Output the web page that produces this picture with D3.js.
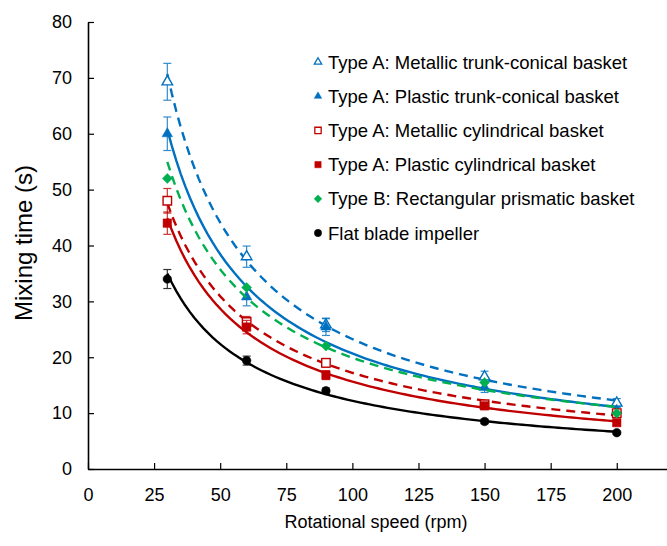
<!DOCTYPE html>
<html>
<head>
<meta charset="utf-8">
<script src="https://cdn.jsdelivr.net/npm/d3@7"></script>
<style>
  body { margin: 0; background: #fff; }
  svg text { font-family: "Liberation Sans", Arial, sans-serif; fill: #000; }
</style>
</head>
<body>
<div id="chart"></div>
<script>
(function(){
    // data
    const speeds = [30, 60, 90, 150, 200];

    const seriesNames = [
        'Type A: Metallic trunk-conical basket',
        'Type A: Plastic trunk-conical basket',
        'Type A: Metallic cylindrical basket',
        'Type A: Plastic cylindrical basket',
        'Type B: Rectangular prismatic basket',
        'Flat blade impeller'
    ];

    const metallicConical = [69.3, 38.0, 25.8, 16.5, 11.8];
    const plasticConical = [60.0, 30.8, 25.4, 14.6, 10.5];
    const metallicCylindrical = [48.0, 26.3, 19.0, 11.6, 10.0];
    const plasticCylindrical = [44.0, 25.4, 16.8, 11.3, 8.3];
    const rectangularPrismatic = [52.0, 32.5, 22.0, 15.5, 10.0];
    const flatBlade = [34.0, 19.4, 14.0, 8.5, 6.5];

    const metallicConicalErr = [3.3, 1.9, 1.2, 1.0, 0.8];
    const plasticConicalErr = [3.0, 1.6, 1.5, 0.9, 0.7];
    const metallicCylindricalErr = [2.2, 1.0, 0.8, 0.6, 0.5];
    const plasticCylindricalErr = [2.0, 1.2, 0.8, 0.6, 0.5];
    const rectangularPrismaticErr = [0, 0, 0, 0, 0];
    const flatBladeErr = [1.7, 0.8, 0.5, 0.4, 0.3];

    const xTicks = [0, 25, 50, 75, 100, 125, 150, 175, 200];
    const yTicks = [0, 10, 20, 30, 40, 50, 60, 70, 80];

    // excel style diamond: a square turned 45 degrees
    const diamond = {
        draw(context, size) {
            const r = Math.sqrt(size / 2);
            context.moveTo(0, -r);
            context.lineTo(r, 0);
            context.lineTo(0, r);
            context.lineTo(-r, 0);
            context.closePath();
        }
    };

    const series = [
        { name: seriesNames[0], values: metallicConical, err: metallicConicalErr, color: '#0070C0', symbol: d3.symbolTriangle, filled: false, dash: '9,6' },
        { name: seriesNames[1], values: plasticConical, err: plasticConicalErr, color: '#0070C0', symbol: d3.symbolTriangle, filled: true, dash: null },
        { name: seriesNames[2], values: metallicCylindrical, err: metallicCylindricalErr, color: '#C00000', symbol: d3.symbolSquare, filled: false, dash: '9,6' },
        { name: seriesNames[3], values: plasticCylindrical, err: plasticCylindricalErr, color: '#C00000', symbol: d3.symbolSquare, filled: true, dash: null },
        { name: seriesNames[4], values: rectangularPrismatic, err: rectangularPrismaticErr, color: '#00B050', symbol: diamond, filled: true, dash: '9,6' },
        { name: seriesNames[5], values: flatBlade, err: flatBladeErr, color: '#000000', symbol: d3.symbolCircle, filled: true, dash: null }
    ];

    const markerSize = new Map([
        [d3.symbolTriangle, 48], [d3.symbolSquare, 72], [diamond, 50], [d3.symbolCircle, 58]
    ]);
    const legendSize = new Map([
        [d3.symbolTriangle, 24], [d3.symbolSquare, 40], [diamond, 30], [d3.symbolCircle, 42]
    ]);

    const fullWidth = 667;
    const fullHeight = 546;
    const margin = { top: 22, left: 88, bottom: 77, right: 0 };

    const svg = d3.select('#chart')
        .append('svg')
            .attr('width', fullWidth)
            .attr('height', fullHeight);

    const xScale = d3.scaleLinear()
        .domain([0, 219])
        .range([margin.left, 667]);

    const yScale = d3.scaleLinear()
        .domain([0, 80])
        .range([fullHeight - margin.bottom, margin.top]);

    // axes, ticks pointing inward like the original
    const xAxis = d3.axisBottom(xScale)
        .tickValues(xTicks)
        .tickSizeInner(-6)
        .tickSizeOuter(0)
        .tickPadding(19);

    const yAxis = d3.axisLeft(yScale)
        .tickValues(yTicks)
        .tickSizeInner(-6)
        .tickSizeOuter(0)
        .tickPadding(16);

    const gx = svg.append('g')
        .attr('transform', `translate(0, ${yScale(0)})`)
        .call(xAxis);
    const gy = svg.append('g')
        .attr('transform', `translate(${xScale(0)}, 0)`)
        .call(yAxis);

    [gx, gy].forEach(g => {
        g.select('.domain').attr('stroke', '#000').attr('stroke-width', 1.6);
        g.selectAll('.tick line').attr('stroke', '#000').attr('stroke-width', 1.2);
        g.selectAll('.tick text')
            .style('font-size', '18px')
            .style('font-family', '"Liberation Sans", Arial, sans-serif')
            .attr('fill', '#000');
    });

    svg.append('text')
        .attr('x', 376)
        .attr('y', 528)
        .attr('text-anchor', 'middle')
        .style('font-size', '18px')
        .text('Rotational speed (rpm)');

    svg.append('text')
        .attr('transform', `translate(32, 243) rotate(-90)`)
        .attr('text-anchor', 'middle')
        .style('font-size', '24px')
        .text('Mixing time (s)');

    // power trendline y = a * x^b, fitted from each series like the spreadsheet does
    const powerFit = values => {
        const lx = speeds.map(Math.log);
        const ly = values.map(Math.log);
        const mx = d3.mean(lx), my = d3.mean(ly);
        const b = d3.sum(lx, (v, i) => (v - mx) * (ly[i] - my)) / d3.sum(lx, v => (v - mx) * (v - mx));
        const a = Math.exp(my - b * mx);
        return x => a * Math.pow(x, b);
    };

    const curveXs = d3.range(0, 101).map(i => speeds[0] + (speeds[speeds.length - 1] - speeds[0]) * i / 100);

    const line = d3.line()
        .x(d => xScale(d[0]))
        .y(d => yScale(d[1]));

    const groups = svg.selectAll('.series')
        .data(series)
        .enter()
        .append('g')
            .attr('class', 'series');

    groups.each(function(s){
        const g = d3.select(this);
        const pts = speeds.map((x, i) => ({ x: x, y: s.values[i], e: s.err[i] }));

        const eb = g.selectAll('.err')
            .data(pts.filter(p => p.e > 0))
            .enter()
            .append('g')
                .attr('class', 'err')
                .attr('stroke', s.color)
                .attr('stroke-width', 1.2)
                .attr('opacity', 0.8);
        eb.append('line')
            .attr('x1', p => xScale(p.x)).attr('x2', p => xScale(p.x))
            .attr('y1', p => yScale(p.y - p.e)).attr('y2', p => yScale(p.y + p.e));
        eb.append('line')
            .attr('x1', p => xScale(p.x) - 4).attr('x2', p => xScale(p.x) + 4)
            .attr('y1', p => yScale(p.y + p.e)).attr('y2', p => yScale(p.y + p.e));
        eb.append('line')
            .attr('x1', p => xScale(p.x) - 4).attr('x2', p => xScale(p.x) + 4)
            .attr('y1', p => yScale(p.y - p.e)).attr('y2', p => yScale(p.y - p.e));

        const fit = powerFit(s.values);
        g.append('path')
            .datum(curveXs.map(x => [x, fit(x)]))
            .attr('d', line)
            .attr('fill', 'none')
            .attr('stroke', s.color)
            .attr('stroke-width', 2.4)
            .attr('stroke-dasharray', s.dash);

        g.selectAll('.pt')
            .data(pts)
            .enter()
            .append('path')
                .attr('class', 'pt')
                .attr('transform', p => `translate(${xScale(p.x)}, ${yScale(p.y)})`)
                .attr('d', d3.symbol().type(s.symbol).size(markerSize.get(s.symbol)))
                .attr('fill', s.filled ? s.color : '#fff')
                .attr('stroke', s.color)
                .attr('stroke-width', s.filled ? 0.5 : 1.4);
    });

    // legend
    const legend = svg.append('g')
        .attr('transform', 'translate(318, 62)');

    const rows = legend.selectAll('.row')
        .data(series)
        .enter()
        .append('g')
            .attr('class', 'row')
            .attr('transform', (d, i) => `translate(0, ${i * 34.2})`);

    rows.append('path')
        .attr('d', d => d3.symbol().type(d.symbol).size(legendSize.get(d.symbol))())
        .attr('fill', d => d.filled ? d.color : '#fff')
        .attr('stroke', d => d.color)
        .attr('stroke-width', d => d.filled ? 0.5 : 1.3);

    rows.append('text')
        .attr('x', 10)
        .attr('y', 6.5)
        .style('font-size', '18.5px')
        .text(d => d.name);
}());
</script>
</body>
</html>
